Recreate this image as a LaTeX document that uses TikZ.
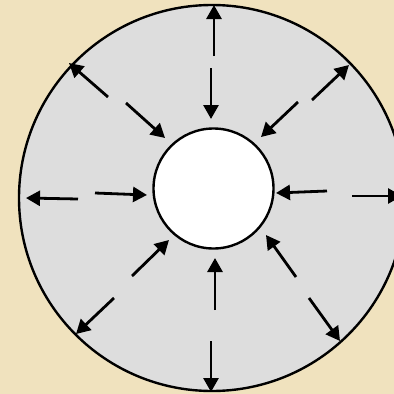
\documentclass[tikz,border=0pt]{standalone}
\usetikzlibrary{arrows.meta}
\definecolor{parch}{RGB}{240,226,190}
\definecolor{ringgrey}{RGB}{221,221,221}
\tikzset{
  ringline/.style={line width=2.4pt, draw=black},
  forcearrow/.style={line width=2.8pt, -{Triangle[length=14pt,width=15pt]}, shorten >=0pt},
}
\begin{document}
\begin{tikzpicture}[x=1pt,y=-1pt]
\useasboundingbox (0,0) rectangle (394,394);
\clip (0,0) rectangle (394,394);
\fill[parch] (0,0) rectangle (394,394);
% outer disc and inner hole
\filldraw[ringline, fill=ringgrey] (212,198) circle[radius=193];
\filldraw[ringline, fill=white] (213.5,188.5) circle[radius=60];
% arrow end points
\coordinate (t1) at (214,56);  \coordinate (t1e) at (214,5);
\coordinate (t2) at (211,68);  \coordinate (t2e) at (211,119);
\coordinate (ul1) at (108,97); \coordinate (ul1e) at (69,63);
\coordinate (ul2) at (126,103);\coordinate (ul2e) at (165,138);
\coordinate (l1) at (78,199);  \coordinate (l1e) at (26,198);
\coordinate (l2) at (95,193);  \coordinate (l2e) at (147,195);
\coordinate (ll1) at (114,298);\coordinate (ll1e) at (76,334);
\coordinate (ll2) at (132,276);\coordinate (ll2e) at (169,240);
\coordinate (b1) at (215,310); \coordinate (b1e) at (215,258);
\coordinate (b2) at (211,341); \coordinate (b2e) at (211,392);
\coordinate (lr1) at (296,277);\coordinate (lr1e) at (266,235);
\coordinate (lr2) at (309,298);\coordinate (lr2e) at (340,341);
\coordinate (r1) at (327,191); \coordinate (r1e) at (276,193);
\coordinate (r2) at (352,196); \coordinate (r2e) at (402,196);
\coordinate (ur1) at (312,100);\coordinate (ur1e) at (349,65);
\coordinate (ur2) at (298,102);\coordinate (ur2e) at (261,137);
\foreach \a in {t1,t2,ul1,ul2,l1,l2,ll1,ll2,b1,b2,lr1,lr2,r1,r2,ur1,ur2}
  \draw[forcearrow] (\a) -- (\a e);
\end{tikzpicture}
\end{document}
